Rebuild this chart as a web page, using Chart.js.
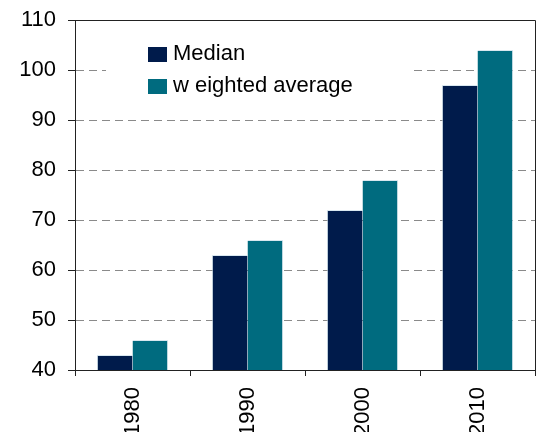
<!DOCTYPE html>
<html>
<head>
<meta charset="utf-8">
<script src="https://cdn.jsdelivr.net/npm/chart.js@4/dist/chart.umd.min.js"></script>
<style>
  html, body { margin: 0; padding: 0; background: #fff; overflow: hidden; }
  #wrap { width: 543px; height: 432px; position: relative; }
</style>
</head>
<body>
<div id="wrap"><canvas id="c" width="543" height="432"></canvas></div>
<script>
// Decades on the category axis
const years = ['1980', '1990', '2000', '2010'];
// Series values
const median = [43, 63, 72, 97];
const weightedAverage = [46, 66, 78, 104];
// Value axis ticks
const yTicks = [40, 50, 60, 70, 80, 90, 100, 110];

const FONT = "'Liberation Sans', Arial, sans-serif";
const EDGE = 'rgba(201,221,232,0.7)';

// Legend drawn inside the plot area on a white panel
const innerLegend = {
  id: 'innerLegend',
  afterDraw(chart) {
    const ctx = chart.ctx;
    const a = chart.chartArea;
    ctx.save();
    // top and right frame lines of the plot area
    ctx.strokeStyle = '#222';
    ctx.lineWidth = 1;
    ctx.beginPath();
    ctx.moveTo(a.left - 7, Math.round(a.top) + 0.5);
    ctx.lineTo(Math.round(a.right) + 0.5, Math.round(a.top) + 0.5);
    ctx.lineTo(Math.round(a.right) + 0.5, a.bottom);
    ctx.stroke();

    ctx.fillStyle = '#fff';
    ctx.fillRect(a.left + 31, a.top + 16, 306, 68);
    ctx.font = '22px ' + FONT;
    ctx.textBaseline = 'alphabetic';
    chart.data.datasets.forEach((ds, i) => {
      const sy = a.top + 27 + i * 32;
      ctx.fillStyle = ds.backgroundColor;
      ctx.fillRect(a.left + 73, sy, 19, 15);
      ctx.fillStyle = '#000';
      ctx.fillText(ds.label, a.left + 98, sy + 13);
    });
    ctx.restore();
  }
};

new Chart(document.getElementById('c'), {
  type: 'bar',
  data: {
    labels: years,
    datasets: [
      { label: 'Median', data: median, backgroundColor: '#001b4b',
        borderColor: EDGE, borderWidth: { top: 1, left: 1, right: 0 } },
      { label: 'w eighted average', data: weightedAverage, backgroundColor: '#006b7f',
        borderColor: EDGE, borderWidth: { top: 1, left: 0, right: 1 } }
    ]
  },
  options: {
    responsive: false,
    animation: false,
    devicePixelRatio: 1,
    layout: { padding: { top: 20, right: 8, left: 0, bottom: 0 } },
    datasets: { bar: { categoryPercentage: 0.62, barPercentage: 1 } },
    plugins: { legend: { display: false }, tooltip: { enabled: false } },
    scales: {
      x: {
        afterFit: s => { s.height = 62; s.paddingRight = 0; s.paddingLeft = 0; },
        grid: { display: true, drawOnChartArea: false, offset: true,
                tickLength: 6, tickColor: '#222', color: '#222' },
        border: { display: true, color: '#222', width: 1 },
        ticks: { color: '#000', font: { family: FONT, size: 22 },
                 minRotation: 90, maxRotation: 90, padding: 11 }
      },
      y: {
        min: yTicks[0], max: yTicks[yTicks.length - 1],
        afterFit: s => { s.width = 75; s.paddingTop = 0; s.paddingBottom = 0; },
        afterBuildTicks: s => { s.ticks = yTicks.map(v => ({ value: v })); },
        grid: { color: '#8a8a8a', tickColor: '#222', tickLength: 7,
                tickBorderDash: [], lineWidth: 1 },
        border: { display: true, color: '#222', width: 1, dash: [8, 5] },
        ticks: { color: '#000', font: { family: FONT, size: 22 }, padding: 12 }
      }
    }
  },
  plugins: [innerLegend]
});
</script>
</body>
</html>
